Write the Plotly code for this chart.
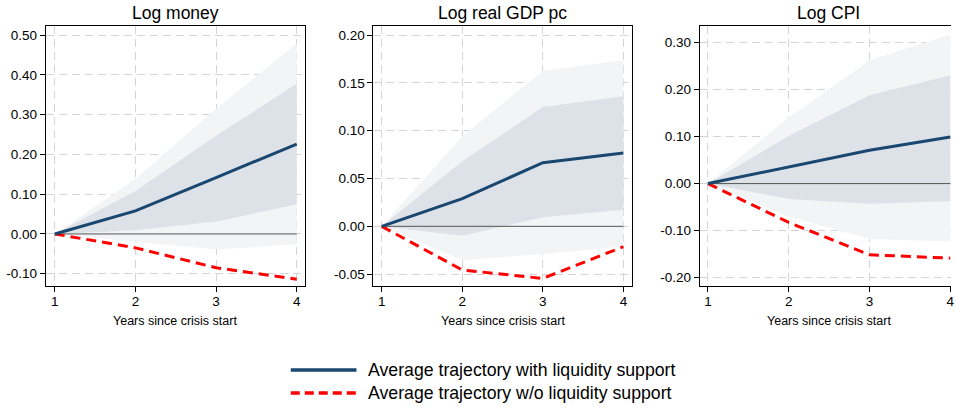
import plotly.graph_objects as go

years = [1, 2, 3, 4]

panel_titles = ["Log money", "Log real GDP pc", "Log CPI"]
x_title = "Years since crisis start"
legend_labels = ["Average trajectory with liquidity support",
                 "Average trajectory w/o liquidity support"]

# Average trajectories
money_with = [0.0, 0.058, 0.142, 0.226]
money_without = [0.0, -0.035, -0.085, -0.114]
gdp_with = [0.0, 0.029, 0.0665, 0.0766]
gdp_without = [0.0, -0.0457, -0.0545, -0.0213]
cpi_with = [0.0, 0.0348, 0.071, 0.099]
cpi_without = [0.0, -0.0826, -0.1515, -0.1586]

# Confidence bands (inner and outer) around the "with support" path
money_inner_lo = [0.0, 0.009, 0.031, 0.075]
money_inner_hi = [0.0, 0.108, 0.247, 0.378]
money_outer_lo = [0.0, -0.019, -0.039, -0.026]
money_outer_hi = [0.0, 0.138, 0.315, 0.479]

gdp_inner_lo = [0.0, -0.0098, 0.0094, 0.0172]
gdp_inner_hi = [0.0, 0.068, 0.1248, 0.136]
gdp_outer_lo = [0.0, -0.0353, -0.029, -0.021]
gdp_outer_hi = [0.0, 0.094, 0.1626, 0.1738]

cpi_inner_lo = [0.0, -0.0327, -0.0427, -0.0377]
cpi_inner_hi = [0.0, 0.101, 0.188, 0.230]
cpi_outer_lo = [0.0, -0.070, -0.118, -0.123]
cpi_outer_hi = [0.0, 0.140, 0.262, 0.317]

money_ticks = [-0.10, 0.00, 0.10, 0.20, 0.30, 0.40, 0.50]
money_ticktext = ["-0.10", "0.00", "0.10", "0.20", "0.30", "0.40", "0.50"]
gdp_ticks = [-0.05, 0.00, 0.05, 0.10, 0.15, 0.20]
gdp_ticktext = ["-0.05", "0.00", "0.05", "0.10", "0.15", "0.20"]
cpi_ticks = [-0.20, -0.10, 0.00, 0.10, 0.20, 0.30]
cpi_ticktext = ["-0.20", "-0.10", "0.00", "0.10", "0.20", "0.30"]

NAVY = "#1a476f"
RED = "#ff0000"
INNER = "#dce2e8"
OUTER = "#f2f4f6"
FONT = "Liberation Sans, Arial, sans-serif"

panels = [
    dict(w=money_with, wo=money_without, ilo=money_inner_lo, ihi=money_inner_hi,
         olo=money_outer_lo, ohi=money_outer_hi, ticks=money_ticks, ticktext=money_ticktext,
         yrange=[-0.130, 0.523], xrange=[0.889, 4.099], dom=[0.0482, 0.3204]),
    dict(w=gdp_with, wo=gdp_without, ilo=gdp_inner_lo, ihi=gdp_inner_hi,
         olo=gdp_outer_lo, ohi=gdp_outer_hi, ticks=gdp_ticks, ticktext=gdp_ticktext,
         yrange=[-0.062, 0.2094], xrange=[0.897, 4.111], dom=[0.3927, 0.6649]),
    dict(w=cpi_with, wo=cpi_without, ilo=cpi_inner_lo, ihi=cpi_inner_hi,
         olo=cpi_outer_lo, ohi=cpi_outer_hi, ticks=cpi_ticks, ticktext=cpi_ticktext,
         yrange=[-0.217, 0.335], xrange=[0.898, 4.009], dom=[0.7358, 1.0]),
]

fig = go.Figure()
layout = dict(
    width=955, height=408,
    margin=dict(l=0, r=0, t=0, b=0),
    paper_bgcolor="white", plot_bgcolor="white",
    showlegend=False,
    font=dict(family=FONT, color="#000000"),
)
annotations = []
shapes = []
ydom = [0.300, 0.936]

for i, p in enumerate(panels):
    n = "" if i == 0 else str(i + 1)
    xa, ya = "x" + n, "y" + n
    common = dict(xaxis=xa, yaxis=ya, mode="lines", hoverinfo="skip", showlegend=False)
    fig.add_trace(go.Scatter(x=years, y=p["olo"], line=dict(width=0, color=OUTER), **common))
    fig.add_trace(go.Scatter(x=years, y=p["ohi"], line=dict(width=0, color=OUTER),
                             fill="tonexty", fillcolor=OUTER, **common))
    fig.add_trace(go.Scatter(x=years, y=p["ilo"], line=dict(width=0, color=INNER), **common))
    fig.add_trace(go.Scatter(x=years, y=p["ihi"], line=dict(width=0, color=INNER),
                             fill="tonexty", fillcolor=INNER, **common))
    fig.add_trace(go.Scatter(x=[years[0], years[-1]], y=[0, 0],
                             line=dict(width=1, color="#555555"), **common))
    fig.add_trace(go.Scatter(x=years, y=p["wo"], line=dict(width=3, color=RED, dash="10px,6px"),
                             **common))
    fig.add_trace(go.Scatter(x=years, y=p["w"], line=dict(width=3, color=NAVY), **common))

    layout["xaxis" + n] = dict(
        domain=p["dom"], range=p["xrange"], anchor=ya,
        tickvals=years, ticktext=[str(v) for v in years],
        showgrid=True, gridcolor="#d4d4d4", griddash="8px,5px", gridwidth=1,
        zeroline=False, showline=True, linecolor="black", linewidth=1,
        mirror=True, ticks="outside", ticklen=5, tickcolor="black",
        ticklabeloverflow="allow", ticklabelstandoff=-2,
        tickfont=dict(size=13.5, family=FONT, color="black"),
    )
    layout["yaxis" + n] = dict(
        domain=ydom, range=p["yrange"], anchor=xa,
        tickvals=p["ticks"], ticktext=p["ticktext"],
        showgrid=True, gridcolor="#d4d4d4", griddash="8px,5px", gridwidth=1,
        zeroline=False, showline=True, linecolor="black", linewidth=1,
        mirror=(i < 2), ticks="outside", ticklen=5, tickcolor="black",
        tickfont=dict(size=13.5, family=FONT, color="black"),
    )
    xc = (p["dom"][0] + p["dom"][1]) / 2 if i < 2 else 0.8712
    annotations.append(dict(text=panel_titles[i], x=xc, y=1 - 13 / 408, xref="paper", yref="paper",
                            xanchor="center", yanchor="middle", showarrow=False,
                            font=dict(size=17.5, family=FONT, color="black")))
    annotations.append(dict(text=x_title, x=xc, y=1 - 321 / 408, xref="paper", yref="paper",
                            xanchor="center", yanchor="middle", showarrow=False,
                            font=dict(size=12.5, family=FONT, color="black")))

# Legend key drawn below the panels
legend_styles = [dict(color=NAVY, width=3.5, dash="solid"),
                 dict(color=RED, width=3.5, dash="9px,5px")]
legend_y = [370, 393]
for label, style, yp in zip(legend_labels, legend_styles, legend_y):
    yy = 1 - yp / 408
    shapes.append(dict(type="line", xref="paper", yref="paper",
                       x0=292 / 955, x1=358 / 955, y0=yy, y1=yy, line=style))
    annotations.append(dict(text=label, x=368 / 955, y=yy, xref="paper", yref="paper",
                            xanchor="left", yanchor="middle", showarrow=False,
                            font=dict(size=17.7, family=FONT, color="black")))

layout["annotations"] = annotations
layout["shapes"] = shapes
fig.update_layout(**layout)
fig.write_html("out.html")
